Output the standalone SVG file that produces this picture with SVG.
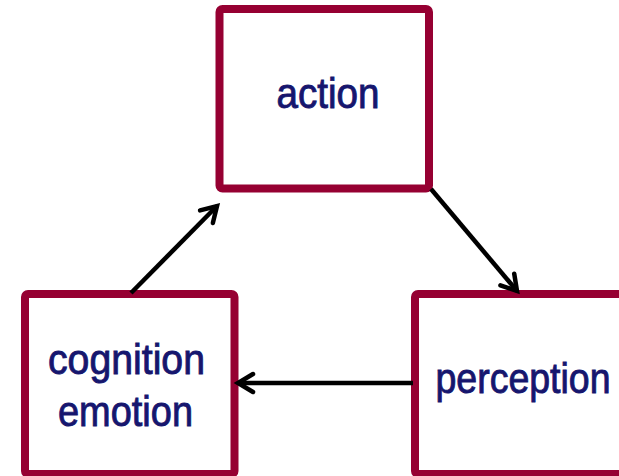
<svg xmlns="http://www.w3.org/2000/svg" width="619" height="476" viewBox="0 0 619 476">
  <style>
    .box { fill: #ffffff; stroke: #960032; stroke-width: 8; }
    .label { font-family: "Liberation Sans", Arial, sans-serif; font-size: 42px; fill: #16166e; stroke: #16166e; stroke-width: 0.9; text-anchor: middle; }
    .conn { stroke: #000000; stroke-width: 4.5; fill: none; }
  </style>
  <defs>
    <marker id="head" viewBox="0 0 24 24" refX="19" refY="12" markerWidth="24" markerHeight="24" markerUnits="userSpaceOnUse" orient="auto">
      <polyline points="4,3 19,12 4,21" fill="none" stroke="#000000" stroke-width="4.5" stroke-linecap="round" stroke-linejoin="miter"/>
    </marker>
  </defs>

  <g id="action">
    <rect class="box" x="219.5" y="9" width="209.5" height="179.5" rx="3"/>
    <text class="label" x="328" y="108" textLength="103" lengthAdjust="spacingAndGlyphs">action</text>
  </g>

  <g id="cognition-emotion">
    <rect class="box" x="25" y="294" width="209.5" height="180" rx="3"/>
    <text class="label" x="126.5" y="374" textLength="157" lengthAdjust="spacingAndGlyphs">cognition</text>
    <text class="label" x="125.5" y="426" textLength="135" lengthAdjust="spacingAndGlyphs">emotion</text>
  </g>

  <g id="perception">
    <rect class="box" x="415" y="294" width="220" height="180" rx="3"/>
    <text class="label" x="523" y="393" textLength="175" lengthAdjust="spacingAndGlyphs">perception</text>
  </g>

  <g id="connectors">
    <line class="conn" x1="131" y1="293" x2="217" y2="206" marker-end="url(#head)"/>
    <line class="conn" x1="431" y1="189" x2="517" y2="291" marker-end="url(#head)"/>
    <line class="conn" x1="413" y1="383" x2="238" y2="383" marker-end="url(#head)"/>
  </g>
</svg>
